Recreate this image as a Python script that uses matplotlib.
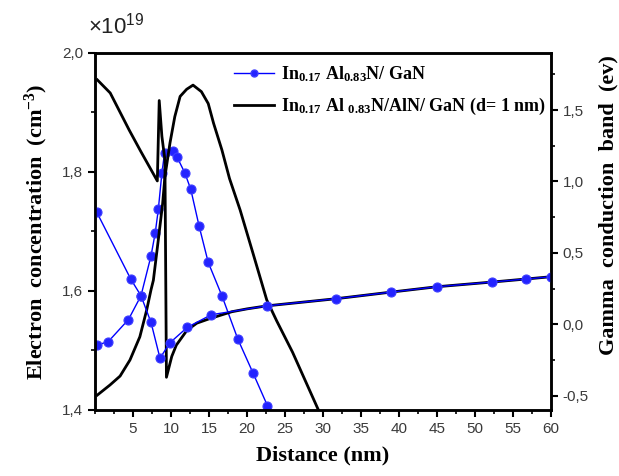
import matplotlib
matplotlib.use('Agg')
import matplotlib.pyplot as plt
from matplotlib.ticker import FuncFormatter, MultipleLocator
from matplotlib.lines import Line2D

# electron concentration, units of 1e19 cm^-3 (left axis)
x_conc_blue = [0.3, 1.75, 4.4, 6.05, 7.37, 7.93, 8.33, 8.8, 9.15, 10.2, 10.8,
               11.8, 12.6, 13.7, 14.9, 16.7, 18.8, 20.8, 22.7]
conc_blue = [1.509, 1.515, 1.552, 1.592, 1.659, 1.698, 1.737, 1.798, 1.832, 1.835,
             1.825, 1.799, 1.771, 1.709, 1.648, 1.592, 1.519, 1.462, 1.407]

x_conc_black = [0.3, 1.97, 3.3, 4.6, 5.9, 6.8, 7.37, 7.68, 8.33, 8.9, 9.2, 9.87,
                10.5, 11.2, 12.06, 12.9, 14.0, 14.9, 15.6, 16.7, 17.7, 19.1, 20.8,
                22.6, 23.9, 26.0, 29.4, 30.0]
conc_black = [1.425, 1.442, 1.457, 1.484, 1.523, 1.568, 1.602, 1.618, 1.686, 1.747,
              1.792, 1.849, 1.893, 1.927, 1.939, 1.946, 1.935, 1.915, 1.882, 1.837,
              1.789, 1.736, 1.663, 1.585, 1.550, 1.497, 1.400, 1.385]

# gamma conduction band, eV (right axis)
x_band_blue = [0.2, 4.7, 6.05, 7.37, 8.55, 9.87, 12.15, 15.3, 22.6, 31.7, 38.9,
               45.0, 52.3, 56.7, 60.0]
band_blue = [0.788, 0.317, 0.200, 0.013, -0.237, -0.129, -0.021, 0.067, 0.129,
             0.179, 0.225, 0.263, 0.296, 0.317, 0.333]

x_band_black = [0.3, 2.0, 4.5, 6.0, 8.2, 8.45, 8.8, 9.2, 9.4, 10.1, 10.7, 12.1,
                13.4, 15.0, 18.0, 20.0, 22.6, 31.7, 38.9, 45.0, 52.3, 56.7, 60.0]
band_black = [1.712, 1.620, 1.360, 1.213, 1.004, 1.567, 1.317, 1.150, -0.371,
              -0.225, -0.146, -0.042, 0.008, 0.038, 0.088, 0.108, 0.129, 0.179,
              0.225, 0.263, 0.296, 0.317, 0.333]

labels = [r'In$_{0.17}$ Al$_{0.83}$N/ GaN',
          r'In$_{0.17}$ Al $_{0.83}$N/AlN/ GaN (d= 1 nm)']

plt.rcParams['mathtext.default'] = 'regular'

serif_bold = dict(family='Liberation Serif', weight='bold')
tick_font = 'Liberation Sans'
tick_col = '#3a3a3a'

fig = plt.figure(figsize=(6.19, 4.76), dpi=100)
ax = fig.add_axes([0.1535, 0.1387, 0.7365, 0.75])
ax2 = ax.twinx()

blue = '#0000ff'
mk = dict(ms=6.5, mfc='#2323ff', mec='#3d3dff', mew=0.8)
ax.plot(x_conc_blue, conc_blue, '-o', color=blue, lw=1, **mk)
ax.plot(x_conc_black, conc_black, '-', color='black', lw=2)
ax2.plot(x_band_black, band_black, '-', color='black', lw=2)
ax2.plot(x_band_blue, band_blue, '-o', color=blue, lw=1, **mk)

ax.set_xlim(0, 60)
ax.set_ylim(1.4, 2.0)
ax2.set_ylim(-0.6, 1.9)

ax.set_xticks(range(5, 61, 5))
ax.xaxis.set_minor_locator(MultipleLocator(2.5))
ax.yaxis.set_major_locator(MultipleLocator(0.2))
ax.yaxis.set_minor_locator(MultipleLocator(0.1))
ax2.yaxis.set_major_locator(MultipleLocator(0.5))
ax2.yaxis.set_minor_locator(MultipleLocator(0.25))

comma = FuncFormatter(lambda v, p: '{:.1f}'.format(v).replace('.', ','))
ax.yaxis.set_major_formatter(comma)
ax2.yaxis.set_major_formatter(comma)
ax.xaxis.set_major_formatter(FuncFormatter(lambda v, p: '{:d}'.format(int(round(v)))))

for a in (ax, ax2):
    for s in a.spines.values():
        s.set_linewidth(1.8)
    a.tick_params(which='major', direction='out', length=5, width=1.5,
                  labelsize=11, labelcolor=tick_col)
    a.tick_params(which='minor', direction='out', length=3, width=1.2)
    for t in a.get_xticklabels() + a.get_yticklabels():
        t.set_fontfamily(tick_font)

ax.set_xlabel('Distance (nm)', fontsize=16, labelpad=7, **serif_bold)
ax.set_ylabel(r'Electron  concentration  (cm$^{-3}$)', fontsize=16, labelpad=9,
              **serif_bold)
ax2.set_ylabel('Gamma  conduction  band  (ev)', fontsize=16, **serif_bold)
ax2.yaxis.set_label_coords(1.104, 0.574)

fig.text(0.142, 0.93, r'×10$^{19}$', fontsize=16, family=tick_font, color='#222222')

handles = [Line2D([], [], color=blue, lw=1, marker='o', ms=5, mfc='#2323ff', mec='#3d3dff'),
           Line2D([], [], color='black', lw=2)]
ax.legend(handles, labels, loc='upper left', bbox_to_anchor=(0.27, 1.015),
          frameon=False, handlelength=2.2, handletextpad=0.4,
          prop=dict(family='Liberation Serif', weight='bold', size=13),
          labelspacing=0.7)

fig.savefig('out.png', dpi=100)
